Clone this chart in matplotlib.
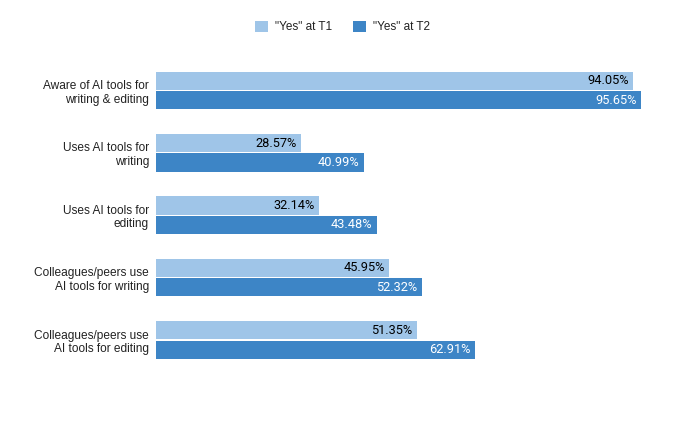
import numpy as np
from matplotlib import pyplot as plt

categories = ["Aware of AI tools for\nwriting & editing",
              "Uses AI tools for\nwriting",
              "Uses AI tools for\nediting",
              "Colleagues/peers use\nAI tools for writing",
              "Colleagues/peers use\nAI tools for editing"]
yes_t1 = [94.05, 28.57, 32.14, 45.95, 51.35]
yes_t2 = [95.65, 40.99, 43.48, 52.32, 62.91]
series_names = ['"Yes" at T1', '"Yes" at T2']

plt.rcParams['font.family'] = ['Liberation Sans', 'DejaVu Sans']

fig = plt.figure(figsize=(6.85, 4.23), dpi=100)
ax = fig.add_axes([156/685, 1 - 371.2/423, 507.5/685, 312/423])

y = np.arange(len(categories))
h = 0.29
off = 0.155
b1 = ax.barh(y - off, yes_t1, height=h, color="#9fc5e8", label=series_names[0])
b2 = ax.barh(y + off, yes_t2, height=h, color="#3d85c6", label=series_names[1])

for yy, v in zip(y, yes_t1):
    ax.text(v - 0.9, yy - off, f"{v:.2f}%", ha="right", va="center",
            fontsize=9.2, color="#000000", family=["Roboto", "DejaVu Sans"])
for yy, v in zip(y, yes_t2):
    ax.text(v - 0.9, yy + off, f"{v:.2f}%", ha="right", va="center",
            fontsize=9.2, color="#ffffff", family=["Roboto", "DejaVu Sans"])

ax.set_xlim(0, 100)
ax.set_ylim(-0.5, len(categories) - 0.5)
ax.invert_yaxis()
ax.set_yticks(y)
ax.set_yticklabels(categories, fontsize=8.6, color="#222222", multialignment="right")
ax.tick_params(axis="y", length=0, pad=5)
ax.set_xticks([])
for s in ax.spines.values():
    s.set_visible(False)

fig.legend(handles=[b1, b2], loc="center", bbox_to_anchor=(0.5, 1 - 27/423),
           ncol=2, frameon=False, fontsize=8.5, handlelength=1.1, handleheight=1.1,
           columnspacing=1.7, handletextpad=0.6, labelcolor="#222222")

fig.savefig("out.png", dpi=100)
